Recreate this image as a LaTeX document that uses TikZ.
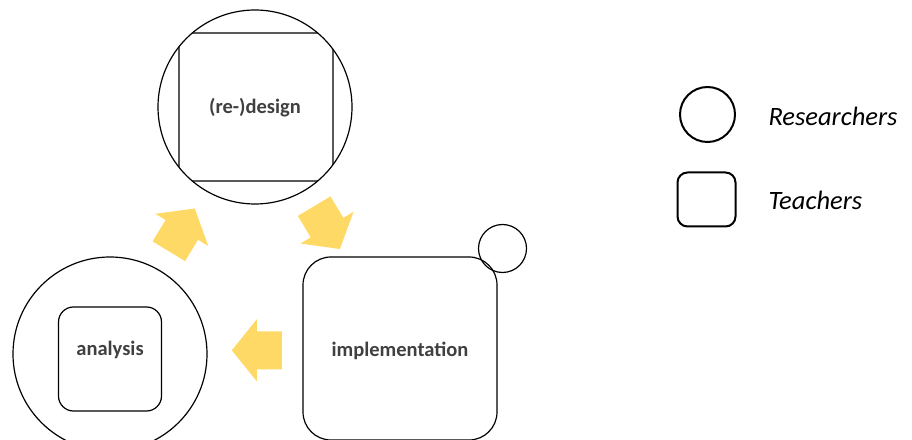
\documentclass[tikz,border=0pt]{standalone}
\usepackage{fontspec}
\setmainfont{Carlito}
\definecolor{arrowyellow}{HTML}{FFD966}
\definecolor{labelgray}{HTML}{404040}
\tikzset{
  researcher/.style={draw, circle, line width=1.2pt, inner sep=0pt},
  teacher/.style={draw, rectangle, line width=1.2pt, inner sep=0pt},
  phase/.style={font=\fontsize{20.5}{24}\selectfont\bfseries, text=labelgray},
  legendtext/.style={font=\fontsize{26.5}{31}\selectfont\itshape, anchor=base west},
  flowarrow/.pic={\fill[arrowyellow] (-25,-19) -- (0,-19) -- (0,-31) -- (25,0) -- (0,31) -- (0,19) -- (-25,19) -- cycle;}
}
\begin{document}
\begin{tikzpicture}[x=1pt, y=1pt]
\useasboundingbox (0,0) rectangle (912,439);

% (re-)design
\node (designcircle) [researcher, minimum size=194] at (255,332) {};
\begin{scope}
  \clip (255,332) circle (97);
  \node (designbox) [teacher, rounded corners=8, minimum width=154, minimum height=148] at (256,332) {};
\end{scope}
\node (design) [phase] at (255,331) {(re-)design};

% implementation
\node (implbox) [teacher, rounded corners=28, minimum width=194, minimum height=183] at (400,90.5) {};
\node (implcircle) [researcher, minimum size=48] at (502.5,190.5) {};
\node (impl) [phase] at (400,88) {implementation};

% analysis
\node (analysiscircle) [researcher, minimum size=194] at (110,85) {};
\node (analysisbox) [teacher, rounded corners=15, minimum width=103, minimum height=104] at (110,80) {};
\node (analysis) [phase] at (110,89) {analysis};

% cycle arrows
\pic [rotate=58.7] at (181.8,209.1) {flowarrow};
\pic [rotate=-59.1] at (327,211.4) {flowarrow};
\pic [rotate=180] at (256.8,88.7) {flowarrow};

% legend
\node (keycircle) [researcher, line width=2pt, minimum size=55] at (707.5,324.5) {};
\node (keybox) [teacher, line width=2pt, rounded corners=10, minimum width=58, minimum height=54] at (706.5,239.5) {};
\node (researchers) [legendtext] at (765,313.3) {Researchers};
\node (teachers) [legendtext] at (765,229) {Teachers};
\end{tikzpicture}
\end{document}
